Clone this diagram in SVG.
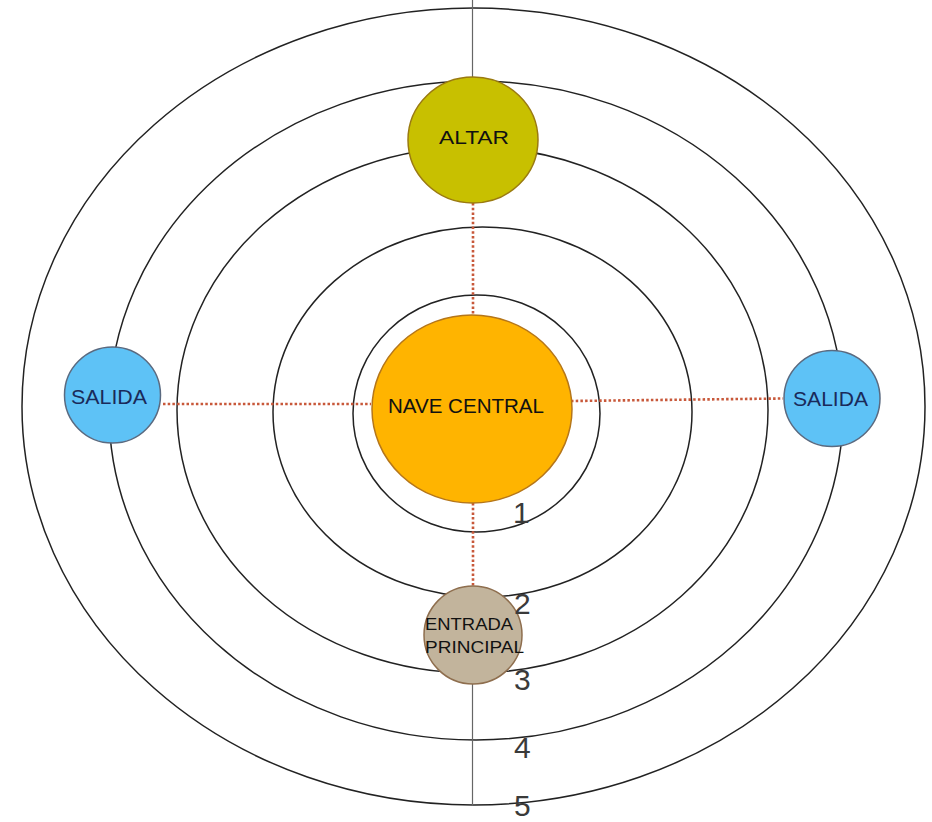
<svg xmlns="http://www.w3.org/2000/svg" width="932" height="822" viewBox="0 0 932 822">
<style>
.ring{fill:none;stroke:#222;stroke-width:1.5}
.axis{stroke:#666;stroke-width:1.2}
.dot{stroke:#C8583A;stroke-width:2.6;stroke-dasharray:2.5 2.2;fill:none}
.lbl{font-family:"Liberation Sans",Arial,sans-serif;fill:#111}
.num{font-family:"Liberation Sans",Arial,sans-serif;font-size:30px;fill:#3a3a3a}
</style>
<rect width="932" height="822" fill="#fff"/>
<g id="rings">
<ellipse class="ring" cx="473.5" cy="406.5" rx="451.5" ry="398.5"/>
<ellipse class="ring" cx="476" cy="410.5" rx="367" ry="329.5"/>
<ellipse class="ring" cx="472.5" cy="410" rx="295.5" ry="263"/>
<ellipse class="ring" cx="482.5" cy="412" rx="209.5" ry="185"/>
<ellipse class="ring" cx="476.5" cy="413.5" rx="123.5" ry="118.5"/>
</g>
<g id="connectors">
<line class="axis" x1="472.5" y1="0" x2="472.5" y2="78"/>
<line class="axis" x1="472.5" y1="682" x2="472.5" y2="806"/>
<line class="dot" x1="473" y1="203" x2="473" y2="315"/>
<line class="dot" x1="473" y1="503" x2="473" y2="587"/>
<line class="dot" x1="163" y1="404" x2="371" y2="404"/>
<line class="dot" x1="571" y1="401" x2="783" y2="398.5"/>
</g>
<g id="altar">
<ellipse cx="473" cy="140" rx="65" ry="63" fill="#C8C000" stroke="#9A7A10" stroke-width="1.5"/>
<text class="lbl" x="439" y="144" font-size="19" textLength="70" lengthAdjust="spacingAndGlyphs">ALTAR</text>
</g>
<g id="nave">
<ellipse cx="472" cy="409" rx="100" ry="94" fill="#FFB400" stroke="#B5761A" stroke-width="1.5"/>
<text class="lbl" x="388" y="413" font-size="21" textLength="156" lengthAdjust="spacingAndGlyphs">NAVE CENTRAL</text>
</g>
<g id="salida-left">
<circle cx="112.5" cy="395" r="48" fill="#5EC2F6" stroke="#5A6A80" stroke-width="1.5"/>
<text class="lbl" x="71" y="404" font-size="21" style="fill:#1A2A5A" textLength="76" lengthAdjust="spacingAndGlyphs">SALIDA</text>
</g>
<g id="salida-right">
<circle cx="832" cy="398.5" r="48" fill="#5EC2F6" stroke="#5A6A80" stroke-width="1.5"/>
<text class="lbl" x="793" y="406" font-size="21" style="fill:#1A2A5A" textLength="75" lengthAdjust="spacingAndGlyphs">SALIDA</text>
</g>
<g id="entrada">
<circle cx="473" cy="635" r="49" fill="#C2B49C" stroke="#8E6E4E" stroke-width="1.5"/>
<text class="lbl" x="425" y="630" font-size="17" textLength="88" lengthAdjust="spacingAndGlyphs">ENTRADA</text>
<text class="lbl" x="425" y="653" font-size="17" textLength="99" lengthAdjust="spacingAndGlyphs">PRINCIPAL</text>
</g>
<g id="numbers">
<text class="num" x="513" y="523">1</text>
<text class="num" x="514" y="614">2</text>
<text class="num" x="514" y="690">3</text>
<text class="num" x="514" y="758">4</text>
<text class="num" x="514" y="816">5</text>
</g>
</svg>
